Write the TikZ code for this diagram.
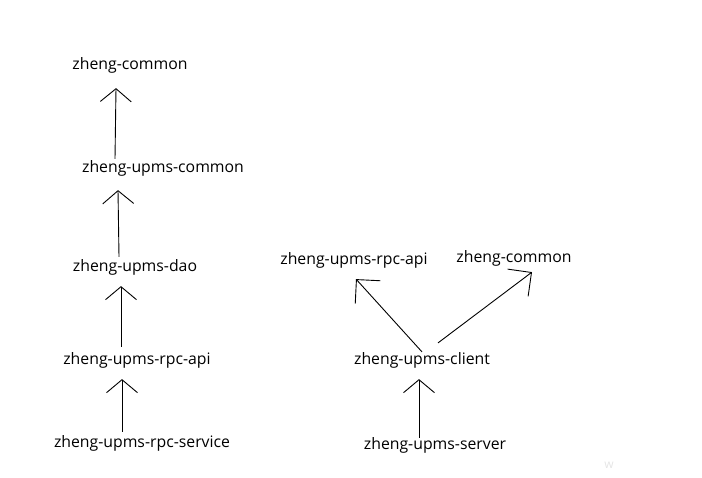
\documentclass[tikz,border=0pt]{standalone}
\usepackage{fontspec}
\setmainfont{Open Sans}
\usetikzlibrary{arrows.meta, positioning}

\begin{document}
\begin{tikzpicture}[x=1pt, y=-1pt,
  module/.style={font=\fontsize{15.8}{18}\selectfont, inner sep=0pt},
  dep/.style={-{Straight Barb[length=13pt, width=31pt]}, line width=0.9pt},
  sdep/.style={-{Straight Barb[length=17pt, width=34pt]}, line width=0.9pt}]
  \useasboundingbox (0,0) rectangle (702,477);

  % left chain
  \node [module] (common)     at (130,65)  {zheng-common};
  \node [module] (upmscommon) at (163,168) {zheng-upms-common};
  \node [module] (dao)        at (135,267) {zheng-upms-dao};
  \node [module] (rpcapi)     at (137,360) {zheng-upms-rpc-api};
  \node [module] (service)    at (142,443) {zheng-upms-rpc-service};

  % right tree
  \node [module] (clientapi)    at (354,260) {zheng-upms-rpc-api};
  \node [module] (clientcommon) at (514,258) {zheng-common};
  \node [module] (client)       at (422,360) {zheng-upms-client};
  \node [module] (server)       at (435,445) {zheng-upms-server};

  \node [font=\fontsize{12}{14}\selectfont, text=black!10, inner sep=0pt] (mark) at (609,465) {w};

  \draw [dep] ([xshift=-48pt, yshift=1pt]upmscommon.north) -- ([xshift=-14pt, yshift=-15pt]common.south);
  \draw [dep] ([xshift=-16pt, yshift=2pt]dao.north) -- ([xshift=-45pt, yshift=-14pt]upmscommon.south);
  \draw [dep] ([xshift=-16pt, yshift=5pt]rpcapi.north) -- ([xshift=-14pt, yshift=-11pt]dao.south);
  \draw [dep] ([xshift=-20pt, yshift=3pt]service.north) -- ([xshift=-15pt, yshift=-11pt]rpcapi.south);

  \draw [dep] ([xshift=-16pt, yshift=-1pt]server.north) -- ([xshift=-3pt, yshift=-11pt]client.south);
  \draw [sdep] (client.north) -- ([xshift=2pt, yshift=-11pt]clientapi.south);
  \draw [sdep] ([xshift=16pt, yshift=9pt]client.north) -- ([xshift=18pt, yshift=-6pt]clientcommon.south);
\end{tikzpicture}
\end{document}
